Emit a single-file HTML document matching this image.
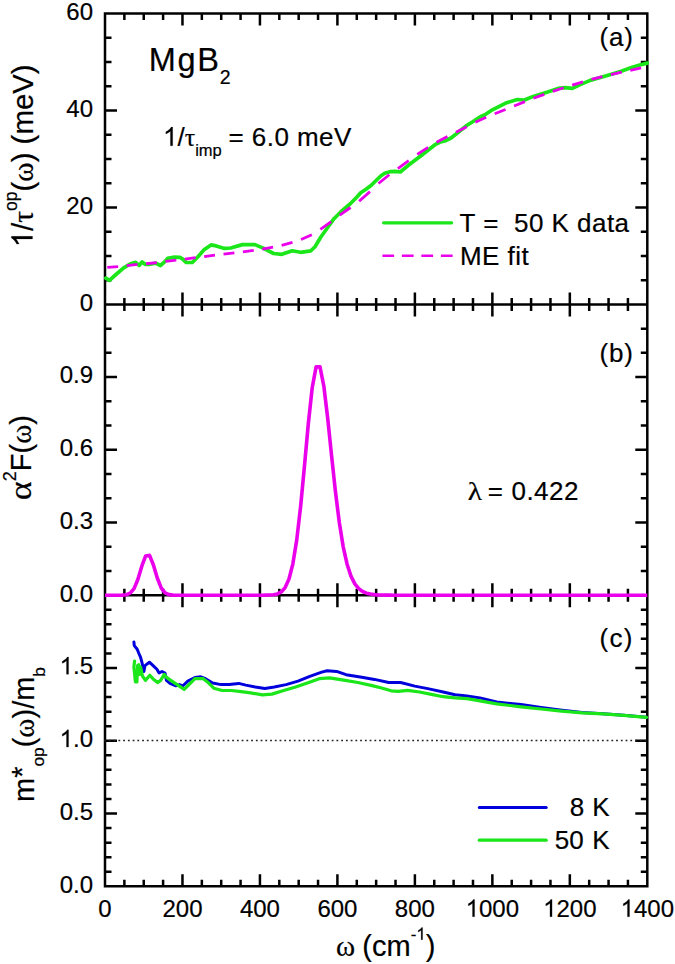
<!DOCTYPE html>
<html><head><meta charset="utf-8"><style>
html,body{margin:0;padding:0;background:#fff;}
svg{display:block;}
text{font-family:"Liberation Sans",sans-serif;fill:#000;stroke:#000;stroke-width:0.2px;}
.tl{font-size:24px;}
.t26{font-size:26px;}
.ax{font-size:29px;}
.serif{font-family:"Liberation Serif",serif;}
</style></head><body>
<svg width="675" height="964" viewBox="0 0 675 964">
<rect x="0" y="0" width="675" height="964" fill="#fff"/>
<path d="M124.37 304.4V297.9M124.37 13.5V20M143.74 304.4V297.9M143.74 13.5V20M163.1 304.4V297.9M163.1 13.5V20M182.47 304.4V292.4M182.47 13.5V25.5M201.84 304.4V297.9M201.84 13.5V20M221.21 304.4V297.9M221.21 13.5V20M240.57 304.4V297.9M240.57 13.5V20M259.94 304.4V292.4M259.94 13.5V25.5M279.31 304.4V297.9M279.31 13.5V20M298.68 304.4V297.9M298.68 13.5V20M318.05 304.4V297.9M318.05 13.5V20M337.41 304.4V292.4M337.41 13.5V25.5M356.78 304.4V297.9M356.78 13.5V20M376.15 304.4V297.9M376.15 13.5V20M395.52 304.4V297.9M395.52 13.5V20M414.89 304.4V292.4M414.89 13.5V25.5M434.25 304.4V297.9M434.25 13.5V20M453.62 304.4V297.9M453.62 13.5V20M472.99 304.4V297.9M472.99 13.5V20M492.36 304.4V292.4M492.36 13.5V25.5M511.73 304.4V297.9M511.73 13.5V20M531.09 304.4V297.9M531.09 13.5V20M550.46 304.4V297.9M550.46 13.5V20M569.83 304.4V292.4M569.83 13.5V25.5M589.2 304.4V297.9M589.2 13.5V20M608.56 304.4V297.9M608.56 13.5V20M627.93 304.4V297.9M627.93 13.5V20M124.37 595.2V588.7M124.37 304.4V310.9M143.74 595.2V588.7M143.74 304.4V310.9M163.1 595.2V588.7M163.1 304.4V310.9M182.47 595.2V583.2M182.47 304.4V316.4M201.84 595.2V588.7M201.84 304.4V310.9M221.21 595.2V588.7M221.21 304.4V310.9M240.57 595.2V588.7M240.57 304.4V310.9M259.94 595.2V583.2M259.94 304.4V316.4M279.31 595.2V588.7M279.31 304.4V310.9M298.68 595.2V588.7M298.68 304.4V310.9M318.05 595.2V588.7M318.05 304.4V310.9M337.41 595.2V583.2M337.41 304.4V316.4M356.78 595.2V588.7M356.78 304.4V310.9M376.15 595.2V588.7M376.15 304.4V310.9M395.52 595.2V588.7M395.52 304.4V310.9M414.89 595.2V583.2M414.89 304.4V316.4M434.25 595.2V588.7M434.25 304.4V310.9M453.62 595.2V588.7M453.62 304.4V310.9M472.99 595.2V588.7M472.99 304.4V310.9M492.36 595.2V583.2M492.36 304.4V316.4M511.73 595.2V588.7M511.73 304.4V310.9M531.09 595.2V588.7M531.09 304.4V310.9M550.46 595.2V588.7M550.46 304.4V310.9M569.83 595.2V583.2M569.83 304.4V316.4M589.2 595.2V588.7M589.2 304.4V310.9M608.56 595.2V588.7M608.56 304.4V310.9M627.93 595.2V588.7M627.93 304.4V310.9M124.37 886.3V879.8M124.37 595.2V601.7M143.74 886.3V879.8M143.74 595.2V601.7M163.1 886.3V879.8M163.1 595.2V601.7M182.47 886.3V874.3M182.47 595.2V607.2M201.84 886.3V879.8M201.84 595.2V601.7M221.21 886.3V879.8M221.21 595.2V601.7M240.57 886.3V879.8M240.57 595.2V601.7M259.94 886.3V874.3M259.94 595.2V607.2M279.31 886.3V879.8M279.31 595.2V601.7M298.68 886.3V879.8M298.68 595.2V601.7M318.05 886.3V879.8M318.05 595.2V601.7M337.41 886.3V874.3M337.41 595.2V607.2M356.78 886.3V879.8M356.78 595.2V601.7M376.15 886.3V879.8M376.15 595.2V601.7M395.52 886.3V879.8M395.52 595.2V601.7M414.89 886.3V874.3M414.89 595.2V607.2M434.25 886.3V879.8M434.25 595.2V601.7M453.62 886.3V879.8M453.62 595.2V601.7M472.99 886.3V879.8M472.99 595.2V601.7M492.36 886.3V874.3M492.36 595.2V607.2M511.73 886.3V879.8M511.73 595.2V601.7M531.09 886.3V879.8M531.09 595.2V601.7M550.46 886.3V879.8M550.46 595.2V601.7M569.83 886.3V874.3M569.83 595.2V607.2M589.2 886.3V879.8M589.2 595.2V601.7M608.56 886.3V879.8M608.56 595.2V601.7M627.93 886.3V879.8M627.93 595.2V601.7M105 280.16H111.5M647.3 280.16H640.8M105 255.92H111.5M647.3 255.92H640.8M105 231.67H111.5M647.3 231.67H640.8M105 207.43H117M647.3 207.43H635.3M105 183.19H111.5M647.3 183.19H640.8M105 158.95H111.5M647.3 158.95H640.8M105 134.71H111.5M647.3 134.71H640.8M105 110.47H117M647.3 110.47H635.3M105 86.22H111.5M647.3 86.22H640.8M105 61.98H111.5M647.3 61.98H640.8M105 37.74H111.5M647.3 37.74H640.8M105 570.97H111.5M647.3 570.97H640.8M105 546.73H111.5M647.3 546.73H640.8M105 522.5H117M647.3 522.5H635.3M105 498.27H111.5M647.3 498.27H640.8M105 474.03H111.5M647.3 474.03H640.8M105 449.8H117M647.3 449.8H635.3M105 425.57H111.5M647.3 425.57H640.8M105 401.33H111.5M647.3 401.33H640.8M105 377.1H117M647.3 377.1H635.3M105 352.87H111.5M647.3 352.87H640.8M105 328.63H111.5M647.3 328.63H640.8M105 871.75H111.5M647.3 871.75H640.8M105 857.19H111.5M647.3 857.19H640.8M105 842.63H111.5M647.3 842.63H640.8M105 828.08H111.5M647.3 828.08H640.8M105 813.52H117M647.3 813.52H635.3M105 798.97H111.5M647.3 798.97H640.8M105 784.41H111.5M647.3 784.41H640.8M105 769.86H111.5M647.3 769.86H640.8M105 755.3H111.5M647.3 755.3H640.8M105 740.75H117M647.3 740.75H635.3M105 726.19H111.5M647.3 726.19H640.8M105 711.64H111.5M647.3 711.64H640.8M105 697.09H111.5M647.3 697.09H640.8M105 682.53H111.5M647.3 682.53H640.8M105 667.98H117M647.3 667.98H635.3M105 653.42H111.5M647.3 653.42H640.8M105 638.87H111.5M647.3 638.87H640.8M105 624.31H111.5M647.3 624.31H640.8M105 609.75H111.5M647.3 609.75H640.8" stroke="#000" stroke-width="2.5" fill="none" stroke-linecap="butt"/>
<path d="M105 13.5V886.3H647.3V13.5Z M105 304.4H647.3 M105 595.2H647.3" stroke="#000" stroke-width="2.5" fill="none" stroke-linejoin="miter"/>
<path d="M104.2 740.6H647.3" stroke="#222" stroke-width="1.5" stroke-dasharray="1.8 2.94" fill="none"/>
<path d="M105 595.2 L106.94 595.2 L110.81 595.2 L114.68 595.2 L118.56 595.19 L122.43 595.12 L126.3 594.72 L130.18 593.15 L134.05 588.58 L137.93 579.2 L141.8 566.24 L145.67 555.96 L149.55 555.38 L153.42 564.96 L157.29 578 L161.17 587.88 L165.04 592.87 L168.91 594.64 L172.79 595.1 L176.66 595.19 L180.53 595.2 L184.41 595.2 L188.28 595.2 L192.16 595.2 L196.03 595.2 L199.9 595.2 L203.78 595.2 L207.65 595.2 L211.52 595.2 L215.4 595.2 L219.27 595.2 L223.14 595.2 L227.02 595.2 L230.89 595.2 L234.76 595.2 L238.64 595.2 L242.51 595.2 L246.39 595.2 L250.26 595.2 L254.13 595.2 L258.01 595.2 L261.88 595.19 L265.75 595.16 L269.63 595.06 L273.5 594.75 L277.37 593.94 L281.25 591.95 L285.12 587.6 L288.99 579.01 L292.87 563.83 L296.74 539.89 L300.62 506.48 L304.49 465.72 L308.36 423.27 L312.24 387.5 L316.11 366.91 L319.98 366.86 L323.86 386.23 L327.73 418.49 L331.6 455.88 L335.48 491.98 L339.35 522.81 L343.22 546.85 L347.1 564.26 L350.97 576.14 L354.85 583.84 L358.72 588.63 L362.59 591.49 L366.47 593.16 L370.34 594.09 L374.21 594.61 L378.09 594.89 L381.96 595.04 L385.83 595.12 L389.71 595.16 L393.58 595.18 L397.45 595.19 L401.33 595.19 L405.2 595.2 L409.08 595.2 L412.95 595.2 L416.82 595.2 L420.7 595.2 L424.57 595.2 L428.44 595.2 L432.32 595.2 L436.19 595.2 L440.06 595.2 L443.94 595.2 L447.81 595.2 L451.68 595.2 L455.56 595.2 L459.43 595.2 L463.31 595.2 L467.18 595.2 L471.05 595.2 L474.93 595.2 L478.8 595.2 L482.67 595.2 L486.55 595.2 L490.42 595.2 L494.29 595.2 L498.17 595.2 L502.04 595.2 L505.91 595.2 L509.79 595.2 L513.66 595.2 L517.54 595.2 L521.41 595.2 L525.28 595.2 L529.16 595.2 L533.03 595.2 L536.9 595.2 L540.78 595.2 L544.65 595.2 L548.52 595.2 L552.4 595.2 L556.27 595.2 L560.14 595.2 L564.02 595.2 L567.89 595.2 L571.77 595.2 L575.64 595.2 L579.51 595.2 L583.39 595.2 L587.26 595.2 L591.13 595.2 L595.01 595.2 L598.88 595.2 L602.75 595.2 L606.63 595.2 L610.5 595.2 L614.37 595.2 L618.25 595.2 L622.12 595.2 L626 595.2 L629.87 595.2 L633.74 595.2 L637.62 595.2 L641.49 595.2 L645.36 595.2 L647.3 595.2" stroke="#eb00eb" stroke-width="3.6" fill="none" stroke-linejoin="round"/>
<path d="M105.8 278.2 L109.5 280.3 L115.4 275 L123.7 267.9 L130.8 263.7 L135.6 262.3 L139.1 265.5 L142.1 261.9 L145 264.3 L149.8 264.3 L155.7 263.1 L160.4 265.5 L164.6 261.9 L167.6 258.4 L173.5 257.2 L179.9 257.3 L183 259.4 L186.1 262.5 L192.3 262.5 L197.5 257.3 L203.7 250.1 L211 244.9 L216.2 245.9 L224.5 248.4 L230.7 248 L242.4 244.6 L254.9 244.6 L263.2 248.1 L273.6 253.5 L281.9 254.3 L292.2 250.8 L300.5 252.3 L310.9 250.8 L315 246.7 L320.7 237.3 L327.3 228 L334 218.7 L340.7 212 L350 204 L356.7 197.3 L360.7 192.7 L366 189.3 L371.3 185.3 L375.3 181.3 L380.7 176 L384.7 173.3 L390 171.7 L395.3 171.3 L400.3 172 L408.3 165.3 L419 157.3 L428.3 150 L435 144.7 L440.3 142 L445.7 140.7 L451 138 L457.7 132.7 L467 125.3 L472.3 122 L480.3 116.7 L485 114.7 L492.4 109.8 L506.7 102.7 L517.3 99.5 L524.4 100 L533.3 96.4 L547.6 92 L558.2 88.4 L565.3 87.6 L572.4 88.4 L579.6 84.9 L590.2 80.4 L600.4 77.5 L610.7 74.4 L621.1 71.3 L631.5 67.6 L639.8 65 L647.3 63.1" stroke="#1ae61a" stroke-width="3.7" fill="none" stroke-linejoin="round" stroke-linecap="round"/>
<path d="M107.3 267.3L118.15 266.71M126.67 265.61L137.52 264.4M146.04 263.75L156.89 262.61M165.41 261.47L176.26 260.08M184.78 259.05L195.63 257.72M204.15 256.62L215 255.22M223.52 254.17L234.37 252.83M242.89 251.81L253.74 250.37M262.26 249.1L273.11 247.19M281.63 245.35L292.48 242.43M301 239.54L311.85 234.82M320.37 229.44L331.22 221.65M339.74 215.16L350.59 207.49M359.11 201.29L369.96 191.65M378.48 183.47L389.33 174.76M397.85 168.55L408.7 160.56M417.22 154.41L428.07 147.39M436.59 142.33L447.44 136.49M455.96 132.31L466.81 126.77M475.33 122.24L486.18 117.26M494.7 113.81L505.55 109.53M514.07 106.04L524.92 101.6M533.44 98.27L544.29 94.31M552.81 91.34L563.66 87.76M572.18 85.07L583.03 81.82M591.55 79.45L602.4 76.72M610.92 74.72L621.77 72.21M630.29 70.26L641.14 67.84" stroke="#eb00eb" stroke-width="2.8" fill="none"/>
<path d="M133.9 641.9 L134.3 645.6 L137.2 649.3 L138.7 653 L140.6 657.4 L142 662.6 L143.9 671.5 L145 665.6 L149.4 662.2 L153.1 665.6 L156.9 669.3 L159.1 673 L162 671.5 L165 673 L166.5 680.4 L170 683.4 L175.9 685.8 L179.5 684.6 L183 685.8 L187.8 681.1 L194.9 677.5 L200.8 676.8 L205.5 678.7 L212.7 683 L221 684.6 L229.2 684.6 L238.7 683.4 L245.8 685.1 L255.3 687 L264.8 688.6 L274.3 687 L286.1 684.6 L298 681.1 L309.8 676.3 L321.7 672.1 L327.1 670.7 L336.6 671.4 L346.1 674.7 L360.3 677.1 L374.5 679.4 L388.7 682.5 L400.6 682.5 L414.8 686.1 L429 688.9 L443.2 692 L455.1 694.8 L466.9 696 L480 697.9 L496.7 702 L521 704.6 L541.1 707.5 L560 710 L582.2 712.5 L603 713.8 L623.7 715.3 L646.5 717.3" stroke="#0000dd" stroke-width="3" fill="none" stroke-linejoin="round" stroke-linecap="round"/>
<path d="M134.6 661.1 L133.9 667 L135.4 681.9 L136.9 681.9 L137.6 665.6 L138.7 664.8 L139.4 674.4 L140.6 667 L142.4 675.9 L145.4 680.4 L149.8 675.2 L153.1 678.9 L157.6 682.6 L160.6 680.4 L164.3 674.4 L166.5 677.4 L170 679.9 L177.1 684.6 L184.2 689.4 L189 684.6 L194.9 678.7 L203.2 678.7 L207.9 682.3 L213.8 688.2 L222.1 690.5 L231.6 690.5 L241.1 691.7 L250.6 692.9 L262.4 694.8 L271.9 694.1 L283.7 690.5 L295.6 687 L307.4 683 L319.3 678.7 L329.5 677.8 L343.7 680.1 L357.9 682.5 L372.1 685.6 L381.6 688 L391.1 690.8 L398.2 691.3 L407.7 690.3 L419.5 692 L431.4 694.4 L443.2 696.7 L455.1 697.9 L466.9 698.6 L480 700.8 L496.7 703.9 L521 706.8 L541.1 709 L561.5 711.1 L582.2 712.8 L603 713.8 L623.7 715.3 L646.5 717.3" stroke="#1ae61a" stroke-width="3.2" fill="none" stroke-linejoin="round" stroke-linecap="round"/>
<path d="M383.6 222.8H451.6" stroke="#1ae61a" stroke-width="3.2" stroke-linecap="round"/>
<path d="M382.4 255.7H453" stroke="#eb00eb" stroke-width="2.6" stroke-dasharray="11.7 7.8"/>
<path d="M479.3 807.4H546.2" stroke="#0000dd" stroke-width="3" stroke-linecap="round"/>
<path d="M479.3 840.2H546.2" stroke="#1ae61a" stroke-width="3.2" stroke-linecap="round"/>
<text x="93" y="310.7" text-anchor="end" class="tl">0</text>
<text x="93" y="213.73" text-anchor="end" class="tl">20</text>
<text x="93" y="116.77" text-anchor="end" class="tl">40</text>
<text x="93" y="19.8" text-anchor="end" class="tl">60</text>
<text x="93" y="601.5" text-anchor="end" class="tl">0.0</text>
<text x="93" y="528.8" text-anchor="end" class="tl">0.3</text>
<text x="93" y="456.1" text-anchor="end" class="tl">0.6</text>
<text x="93" y="383.4" text-anchor="end" class="tl">0.9</text>
<text x="93" y="892.6" text-anchor="end" class="tl">0.0</text>
<text x="93" y="819.82" text-anchor="end" class="tl">0.5</text>
<text x="93" y="747.05" text-anchor="end" class="tl">&#8199;.0</text>
<text x="93" y="674.27" text-anchor="end" class="tl">&#8199;.5</text>
<text x="105" y="916.7" text-anchor="middle" class="tl">0</text>
<text x="182.47" y="916.7" text-anchor="middle" class="tl">200</text>
<text x="259.94" y="916.7" text-anchor="middle" class="tl">400</text>
<text x="337.41" y="916.7" text-anchor="middle" class="tl">600</text>
<text x="414.89" y="916.7" text-anchor="middle" class="tl">800</text>
<text x="492.36" y="916.7" text-anchor="middle" class="tl">&#8199;000</text>
<text x="569.83" y="916.7" text-anchor="middle" class="tl">&#8199;200</text>
<text x="647.3" y="916.7" text-anchor="middle" class="tl">&#8199;400</text>
<text x="148.7 177.6 197.2" y="71.3" style="font-size:32.5px">MgB</text>
<text x="219.7" y="84" style="font-size:19.5px">2</text>
<text x="163" y="145.8" class="t26">&#8199;/<tspan class="serif">&#964;</tspan><tspan dy="10" style="font-size:16.5px">imp</tspan><tspan x="228.5" dy="-10" style="letter-spacing:0.45px;">= 6.0 meV</tspan></text>
<text x="599.6" y="46.3" class="t26" style="letter-spacing:0.8px">(a)</text>
<text x="599.6" y="362.2" class="t26" style="letter-spacing:0.75px">(b)</text>
<text x="599.6" y="646.7" class="t26" style="letter-spacing:1.2px">(c)</text>
<text x="459.6" y="232.2" class="t26" style="letter-spacing:0.45px;">T =&#160; 50 K data</text>
<text x="460" y="265" class="t26" style="letter-spacing:0.45px;">ME fit</text>
<text transform="translate(467.8 499.8) scale(1.13 1)" class="t26 serif">&#955;</text>
<text x="467.5" y="499.8" class="t26"><tspan x="487.8">=</tspan><tspan x="511.5" style="letter-spacing:0.45px;">0.422</tspan></text>
<text x="569.8" y="816.3" class="t26">8</text><text x="592.2" y="816.3" class="t26">K</text>
<text x="554.8" y="849" class="t26">50</text><text x="592.2" y="849" class="t26">K</text>
<text x="336" y="955.7" class="ax"><tspan class="serif">&#969;</tspan><tspan x="362.3">(cm</tspan><tspan dy="-16" style="font-size:17px">-&#8199;</tspan><tspan dy="16">)</tspan></text>
<text transform="translate(32.5 247.3) rotate(-90)" class="ax" style="font-size:29.4px">&#8199;/<tspan class="serif">&#964;</tspan><tspan dy="-16" style="font-size:17.5px">op</tspan><tspan dy="16">(</tspan><tspan class="serif">&#969;</tspan>) (meV)</text>
<text transform="translate(31 500.3) rotate(-90) scale(1.16 1)" class="ax serif" style="font-size:31px">&#945;</text>
<text transform="translate(31 497.5) rotate(-90)" class="ax"><tspan class="serif" style="font-size:31px;fill:none;stroke:none">&#945;</tspan><tspan dy="-15" style="font-size:18px">2</tspan><tspan dy="15">F(</tspan><tspan class="serif">&#969;</tspan>)</text>
<text transform="translate(33.5 802) rotate(-90)" class="ax">m<tspan dy="-2">*</tspan><tspan dy="12.5" style="font-size:17.3px">op</tspan><tspan dy="-10.5">(</tspan><tspan class="serif">&#969;</tspan>)/m<tspan dy="11" style="font-size:17.3px">b</tspan></text>
<g fill="#000" stroke="#000" stroke-width="0.2" vector-effect="non-scaling-stroke"><path vector-effect="non-scaling-stroke" transform="translate(59.64 747.05) scale(0.011719 -0.011719)" d="M763 0H583V1147Q518 1085 412.5 1023T223 930V1104Q374 1175 487 1276T647 1472H763Z"/><path vector-effect="non-scaling-stroke" transform="translate(59.64 674.27) scale(0.011719 -0.011719)" d="M763 0H583V1147Q518 1085 412.5 1023T223 930V1104Q374 1175 487 1276T647 1472H763Z"/><path vector-effect="non-scaling-stroke" transform="translate(465.66 916.7) scale(0.011719 -0.011719)" d="M763 0H583V1147Q518 1085 412.5 1023T223 930V1104Q374 1175 487 1276T647 1472H763Z"/><path vector-effect="non-scaling-stroke" transform="translate(543.13 916.7) scale(0.011719 -0.011719)" d="M763 0H583V1147Q518 1085 412.5 1023T223 930V1104Q374 1175 487 1276T647 1472H763Z"/><path vector-effect="non-scaling-stroke" transform="translate(620.6 916.7) scale(0.011719 -0.011719)" d="M763 0H583V1147Q518 1085 412.5 1023T223 930V1104Q374 1175 487 1276T647 1472H763Z"/><path vector-effect="non-scaling-stroke" transform="translate(163 145.8) scale(0.012695 -0.012695)" d="M763 0H583V1147Q518 1085 412.5 1023T223 930V1104Q374 1175 487 1276T647 1472H763Z"/><path vector-effect="non-scaling-stroke" transform="translate(416.28 939.7) scale(0.008301 -0.008301)" d="M763 0H583V1147Q518 1085 412.5 1023T223 930V1104Q374 1175 487 1276T647 1472H763Z"/><path vector-effect="non-scaling-stroke" transform="translate(32.5 247.3) rotate(-90) translate(0 0) scale(0.014355 -0.014355)" d="M763 0H583V1147Q518 1085 412.5 1023T223 930V1104Q374 1175 487 1276T647 1472H763Z"/></g>
</svg>
</body></html>
